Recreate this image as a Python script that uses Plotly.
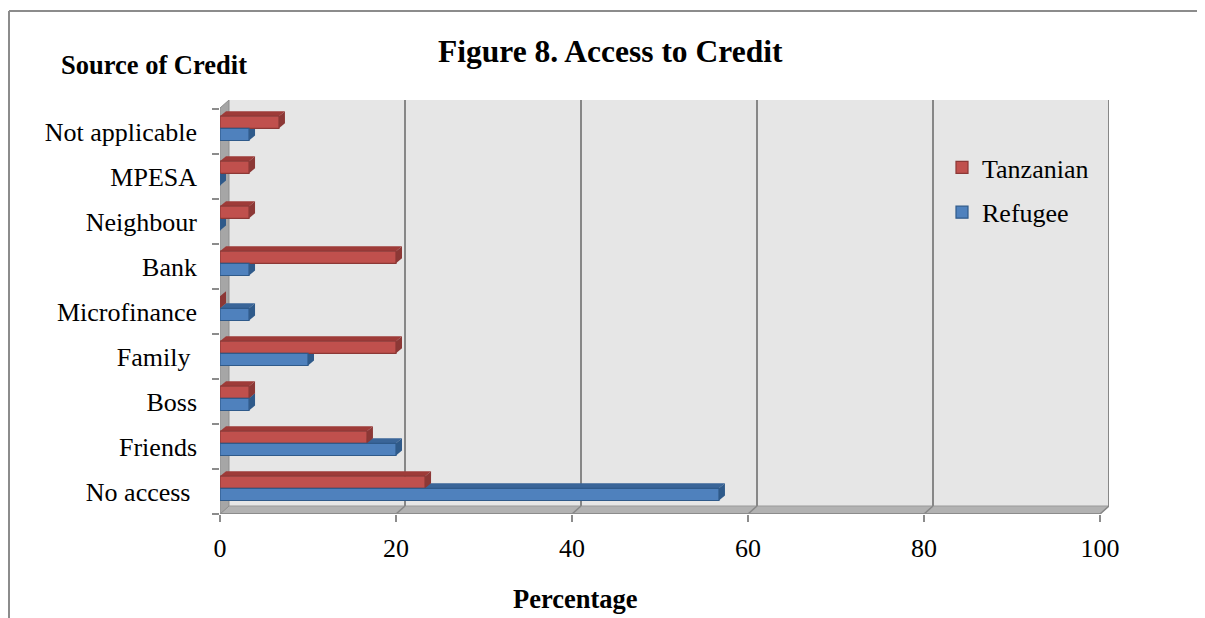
import plotly.graph_objects as go

# data (percent of respondents)
categories = ["No access\u00a0", "Friends", "Boss", "Family\u00a0", "Microfinance",
              "Bank", "Neighbour", "MPESA", "Not applicable"]
refugee = [56.7, 20.0, 3.3, 10.0, 3.3, 3.3, 0.0, 0.0, 3.3]
tanzanian = [23.3, 16.7, 3.3, 20.0, 0.0, 20.0, 3.3, 3.3, 6.7]
x_ticks = [0, 20, 40, 60, 80, 100]

# page geometry (pixels in the browser window); the html body adds an 8px margin
OFF = 8
W, H = 1205 - OFF, 618 - OFF
L, R, T, B = 220, 1109, 100, 514
X_MAX = 100 * (R - L) / 880.0      # 100 sits at x=1100
Y_TOP = -0.5 + (B - T) / 45.0      # 45 px per category
PX_X = X_MAX / (R - L)
PX_Y = (Y_TOP + 0.5) / (B - T)


def px(x, y):
    # page pixel -> paper coords
    return (x - L) / (R - L), (B - y) / (B - T)


FONT = "Liberation Serif, Times New Roman, serif"
RED, RED_DK, RED_TOP = "#c0504d", "#8c3836", "#9e3b38"
BLUE, BLUE_DK, BLUE_TOP = "#4f81bd", "#2f5a8a", "#3a6598"

BAR_W = 0.27
OFFS = {"Refugee": -0.2, "Tanzanian": 0.07}
WALL_DX, WALL_DY = 9 * PX_X, 8 * PX_Y
FACE_DX, FACE_DY = 6 * PX_X, 5 * PX_Y

fig = go.Figure()
fig.add_trace(go.Bar(y=categories, x=tanzanian, name="Tanzanian", orientation="h",
                     width=BAR_W, offset=OFFS["Tanzanian"],
                     marker=dict(color=RED, line=dict(color=RED_DK, width=1.2)),
                     legendgroup="a"))
fig.add_trace(go.Bar(y=categories, x=refugee, name="Refugee", orientation="h",
                     width=BAR_W, offset=OFFS["Refugee"],
                     marker=dict(color=BLUE, line=dict(color=BLUE_DK, width=1.2)),
                     legendgroup="b"))

shapes = []
y0 = -0.5
# back wall
shapes.append(dict(type="rect", xref="x", yref="y", x0=WALL_DX, x1=X_MAX,
                   y0=y0 + WALL_DY, y1=Y_TOP, fillcolor="#e6e6e6",
                   line=dict(width=0), layer="below"))
# floor
shapes.append(dict(type="path", xref="x", yref="y", layer="below",
                   path=f"M0,{y0} L100,{y0} L{100 + WALL_DX},{y0 + WALL_DY} L{WALL_DX},{y0 + WALL_DY} Z",
                   fillcolor="#b2b2b2", line=dict(color="#9a9a9a", width=1)))
# left wall
shapes.append(dict(type="path", xref="x", yref="y", layer="below",
                   path=f"M0,{y0} L{WALL_DX},{y0 + WALL_DY} L{WALL_DX},{Y_TOP} L0,{Y_TOP - WALL_DY} Z",
                   fillcolor="#a6a6a6", line=dict(color="#8f8f8f", width=1)))
# gridlines on the back wall + floor
for v in x_ticks[1:]:
    shapes.append(dict(type="line", xref="x", yref="y", layer="below",
                       x0=v + WALL_DX, x1=v + WALL_DX, y0=y0 + WALL_DY, y1=Y_TOP,
                       line=dict(color="#878787", width=2)))
    shapes.append(dict(type="line", xref="x", yref="y", layer="below",
                       x0=v, x1=v + WALL_DX, y0=y0, y1=y0 + WALL_DY,
                       line=dict(color="#878787", width=1.5)))
# front axis line
shapes.append(dict(type="line", xref="x", yref="y", x0=0, x1=100, y0=y0, y1=y0,
                   line=dict(color="#8c8c8c", width=2), layer="below"))

# 3d faces of the bars
for vals, key, top_c, side_c in [(refugee, "Refugee", BLUE_TOP, BLUE_DK),
                                 (tanzanian, "Tanzanian", RED_TOP, RED_DK)]:
    for i, v in enumerate(vals):
        bot = i + OFFS[key]
        top = bot + BAR_W
        shapes.append(dict(type="path", xref="x", yref="y", layer="below",
                           path=f"M0,{top} L{v},{top} L{v + FACE_DX},{top + FACE_DY} L{FACE_DX},{top + FACE_DY} Z",
                           fillcolor=top_c, line=dict(width=0)))
        shapes.append(dict(type="path", xref="x", yref="y", layer="below",
                           path=f"M{v},{bot} L{v},{top} L{v + FACE_DX},{top + FACE_DY} L{v + FACE_DX},{bot + FACE_DY} Z",
                           fillcolor=side_c, line=dict(width=0)))

# outer frame of the figure
fx0, fy0 = px(9, 11)
fx1, fy1 = px(1215, 625)
shapes.append(dict(type="line", xref="paper", yref="paper", x0=fx0, x1=fx0, y0=fy0, y1=fy1,
                   line=dict(color="#8c8c8c", width=2)))
shapes.append(dict(type="line", xref="paper", yref="paper", x0=fx0, x1=fx1, y0=fy0, y1=fy0,
                   line=dict(color="#8c8c8c", width=2)))

annotations = []
for text, (ax, ay), size in [("<b>Figure 8. Access to Credit</b>", (610, 52), 31.5),
                             ("<b>Source of Credit</b>", (154, 65), 26.5),
                             ("<b>Percentage</b>", (575, 599), 26.5)]:
    xp, yp = px(ax, ay)
    annotations.append(dict(text=text, x=xp, y=yp, xref="paper", yref="paper",
                            showarrow=False, xanchor="center", yanchor="middle",
                            font=dict(family=FONT, size=size, color="black")))

lx, ly = px(942, 144)
fig.update_layout(
    width=W, height=H,
    margin=dict(l=L - OFF, r=W - (R - OFF), t=T - OFF, b=H - (B - OFF)),
    paper_bgcolor="white", plot_bgcolor="white",
    barmode="overlay",
    font=dict(family=FONT, size=26, color="black"),
    showlegend=True,
    legend=dict(x=lx, y=ly, xanchor="left", yanchor="top", traceorder="grouped",
                tracegroupgap=8, bgcolor="rgba(0,0,0,0)", font=dict(size=26)),
    xaxis=dict(range=[0, X_MAX], tickvals=x_ticks, ticks="outside", ticklen=7,
               tickcolor="#8c8c8c", tickwidth=2, showgrid=False, zeroline=False,
               showline=False, ticklabelstandoff=4),
    yaxis=dict(range=[-0.5, Y_TOP], type="category", tickson="boundaries",
               ticks="outside", ticklen=7, tickcolor="#8c8c8c", tickwidth=2,
               showgrid=False, zeroline=False, showline=False, ticklabelstandoff=22),
    shapes=shapes,
    annotations=annotations,
)

fig.write_html("out.html")
